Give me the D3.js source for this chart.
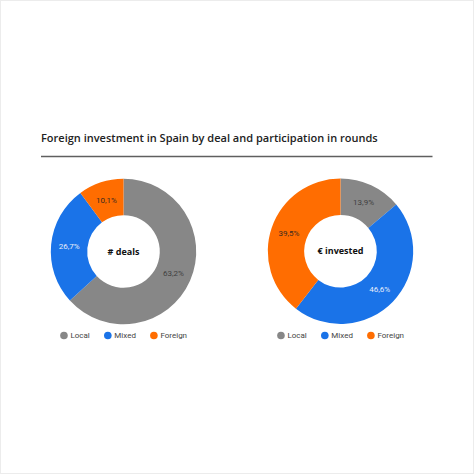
<!DOCTYPE html>
<html>
<head>
<meta charset="utf-8">
<script src="https://cdn.jsdelivr.net/npm/d3@7"></script>
<style>
  html, body { margin: 0; padding: 0; background: #fff; }
  svg { display: block; }
</style>
</head>
<body>
<svg id="chart"></svg>
<script>
// chart values
var title = "Foreign investment in Spain by deal and participation in rounds";
var categories = ["Local", "Mixed", "Foreign"];
var dealShares = [63.2, 26.7, 10.1];
var investedShares = [13.9, 46.6, 39.5];
var donutNames = ["# deals", "€ invested"];

var W = 474, H = 474;
var svg = d3.select("#chart").attr("width", W).attr("height", H);

svg.append("rect")
    .attr("x", 0.5).attr("y", 0.5)
    .attr("width", W - 1).attr("height", H - 1)
    .attr("fill", "#fff")
    .attr("stroke", "#ececec");

var colScale = d3.scaleOrdinal()
    .domain(categories)
    .range(["#878787", "#1a73e8", "#ff6d01"]);
// label colour on top of each slice
var labelCol = d3.scaleOrdinal()
    .domain(categories)
    .range(["#3f3f3f", "#e8eefa", "#3a2a20"]);

var esLocale = d3.formatLocale({ decimal: ",", thousands: ".", grouping: [3], currency: ["", "€"] });
var pct = function (v) { return esLocale.format(".1f")(v) + "%"; };

// title + rule
var titleText = svg.append("text")
    .attr("x", 41)
    .attr("y", 142)
    .attr("font-family", "'Open Sans', sans-serif")
    .attr("font-weight", 600)
    .attr("font-size", 13)
    .attr("fill", "#222")
    .text(title);
// fit title to reference width
var tw = titleText.node().getComputedTextLength();
titleText.attr("font-size", 13 * 337 / tw);

svg.append("line")
    .attr("x1", 41).attr("x2", 432.5)
    .attr("y1", 156.5).attr("y2", 156.5)
    .attr("stroke", "#5f5f5f")
    .attr("stroke-width", 1.5);

var outerR = 72.7, innerR = 36.3;
var centers = [[123.5, 251.5], [340.5, 251.2]];
var series = [dealShares, investedShares];

var pie = d3.pie().sort(null).value(function (d) { return d.v; });
var arc = d3.arc().innerRadius(innerR).outerRadius(outerR);

series.forEach(function (vals, k) {
    var data = categories.map(function (c, i) { return { cat: c, v: vals[i] }; });
    var g = svg.append("g")
        .attr("transform", "translate(" + centers[k][0] + "," + centers[k][1] + ")");

    g.selectAll("path")
        .data(pie(data))
        .enter()
        .append("path")
        .attr("d", arc)
        .attr("fill", function (d) { return colScale(d.data.cat); });

    g.selectAll(".pct")
        .data(pie(data))
        .enter()
        .append("text")
        .attr("class", "pct")
        .attr("transform", function (d) { return "translate(" + arc.centroid(d) + ")"; })
        .attr("text-anchor", "middle")
        .attr("dy", "0.35em")
        .attr("font-family", "Roboto, sans-serif")
        .attr("font-size", 8)
        .attr("fill", function (d) { return labelCol(d.data.cat); })
        .text(function (d) { return pct(d.data.v); });

    g.append("text")
        .attr("text-anchor", "middle")
        .attr("y", 3)
        .attr("font-family", "'Open Sans', sans-serif")
        .attr("font-weight", 700)
        .attr("font-size", 9)
        .attr("fill", "#111")
        .text(donutNames[k]);

    // legend, centred under the donut
    var leg = svg.append("g");
    var x = 0;
    categories.forEach(function (c, i) {
        var item = leg.append("g").attr("transform", "translate(" + x + ",0)");
        item.append("circle")
            .attr("cx", 4).attr("cy", 0).attr("r", 3.8)
            .attr("fill", colScale(c));
        var t = item.append("text")
            .attr("x", 10.5)
            .attr("dy", "0.35em")
            .attr("font-family", "Roboto, sans-serif")
            .attr("font-size", 8)
            .attr("fill", "#444")
            .text(c);
        x += 10.5 + t.node().getComputedTextLength() + 14;
    });
    var lw = x - 14;
    leg.attr("transform", "translate(" + (centers[k][0] - lw / 2) + "," + 335.5 + ")");
});
</script>
</body>
</html>
